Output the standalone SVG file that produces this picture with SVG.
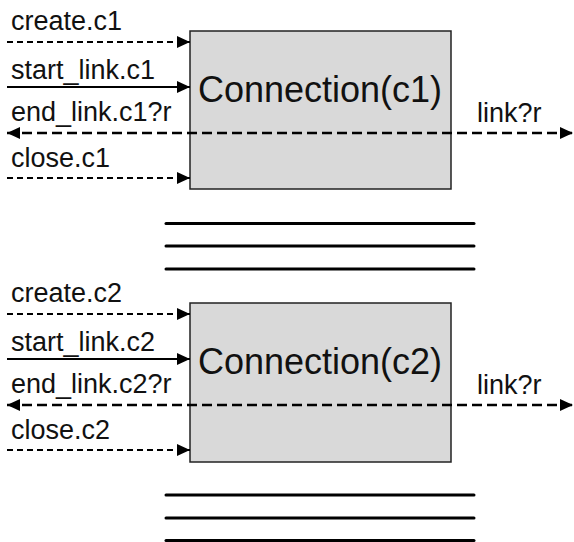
<svg xmlns="http://www.w3.org/2000/svg" width="574" height="542" viewBox="0 0 574 542">
<style>
.lbl{font-family:"Liberation Sans",Arial,Helvetica,sans-serif;font-size:27px;fill:#111}
.big{font-family:"Liberation Sans",Arial,Helvetica,sans-serif;font-size:36px;fill:#111;text-anchor:middle}
.box{fill:#d9d9d9;stroke:#222;stroke-width:1.5}
.solid{stroke:#000;stroke-width:2;fill:none}
.dash{stroke:#000;stroke-width:2;stroke-dasharray:6 4;fill:none}
.dash2{stroke:#000;stroke-width:2.5;stroke-dasharray:10 5;fill:none}
.bar{stroke:#000;stroke-width:3;stroke-linecap:round}
</style>
<defs>
<marker id="ah" viewBox="0 0 13 12" refX="13" refY="6" markerWidth="13" markerHeight="12" markerUnits="userSpaceOnUse" orient="auto-start-reverse">
<path d="M0,0 L13,6 L0,12 z" fill="#000"/>
</marker>
</defs>
<g id="node-c1">
<rect class="box" x="190" y="31" width="261" height="158"/>
<text class="big" x="320" y="102">Connection(c1)</text>
</g>
<g id="node-c2">
<rect class="box" x="190" y="303" width="261" height="159"/>
<text class="big" x="320" y="374">Connection(c2)</text>
</g>
<g id="labels">
<text class="lbl" x="11" y="30">create.c1</text>
<text class="lbl" x="11" y="79">start_link.c1</text>
<text class="lbl" x="11" y="121">end_link.c1?r</text>
<text class="lbl" x="11" y="167">close.c1</text>
<text class="lbl" x="477" y="122">link?r</text>
<text class="lbl" x="11" y="302">create.c2</text>
<text class="lbl" x="11" y="351">start_link.c2</text>
<text class="lbl" x="11" y="393">end_link.c2?r</text>
<text class="lbl" x="11" y="439">close.c2</text>
<text class="lbl" x="477" y="394">link?r</text>
</g>
<g id="connectors">
<line class="dash" x1="7" y1="42" x2="190" y2="42" marker-end="url(#ah)"/>
<line class="solid" x1="7" y1="87" x2="190" y2="87" marker-end="url(#ah)"/>
<line class="dash2" x1="7" y1="133" x2="573" y2="133" marker-start="url(#ah)" marker-end="url(#ah)"/>
<line class="dash" x1="7" y1="178" x2="190" y2="178" marker-end="url(#ah)"/>
<line class="dash" x1="7" y1="314" x2="190" y2="314" marker-end="url(#ah)"/>
<line class="solid" x1="7" y1="359" x2="190" y2="359" marker-end="url(#ah)"/>
<line class="dash2" x1="7" y1="405" x2="573" y2="405" marker-start="url(#ah)" marker-end="url(#ah)"/>
<line class="dash" x1="7" y1="450" x2="190" y2="450" marker-end="url(#ah)"/>
</g>
<g id="bars">
<line class="bar" x1="166" y1="223.5" x2="474" y2="223.5"/>
<line class="bar" x1="166" y1="246" x2="474" y2="246"/>
<line class="bar" x1="166" y1="269" x2="474" y2="269"/>
<line class="bar" x1="166" y1="495" x2="474" y2="495"/>
<line class="bar" x1="166" y1="518" x2="474" y2="518"/>
<line class="bar" x1="166" y1="540.5" x2="474" y2="540.5"/>
</g>
</svg>
